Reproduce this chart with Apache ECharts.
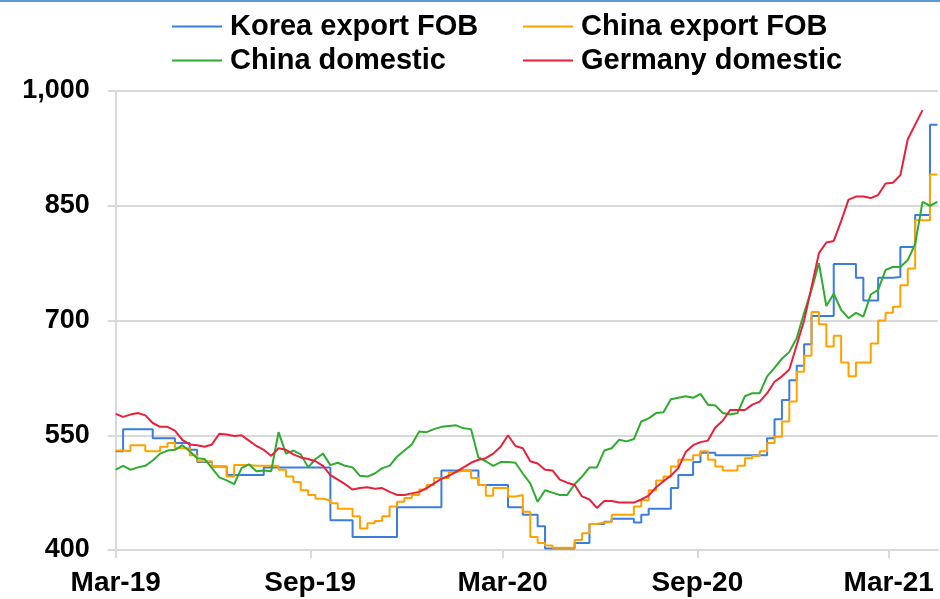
<!DOCTYPE html>
<html>
<head>
<meta charset="utf-8">
<script src="https://cdn.jsdelivr.net/npm/echarts@6/dist/echarts.min.js"></script>
<style>
html,body{margin:0;padding:0;background:#fff;}
#chart{width:940px;height:599px;}
</style>
</head>
<body>
<div id="chart"></div>
<script>
// Weekly observations starting 2019-03-01 (one value per week)
const startDate = '2019-03-01';
const weekCount = 112;

const seriesNames = ['Korea export FOB', 'China export FOB', 'China domestic', 'Germany domestic'];

const koreaExportFOB = [529,558,558,558,558,546,546,546,540,540,
  531,515,515,509,509,498,498,498,498,498,
  508,508,508,508,508,508,508,508,508,439,
  439,439,417,417,417,417,417,417,456,456,
  456,456,456,456,504,504,504,504,504,485,
  485,485,485,456,456,446,446,431,402,402,
  402,402,409,409,434,434,437,441,441,441,
  436,446,454,454,454,481,498,498,515,527,
  527,524,524,524,524,524,524,524,546,571,
  596,622,641,669,706,706,706,774,774,774,
  756,726,726,756,756,757,796,796,838,838,
  956,956];

const chinaExportFOB = [530,529,537,537,529,529,535,540,533,533,
  524,516,516,509,509,496,511,511,510,510,
  510,510,505,496,489,478,472,467,465,461,
  454,454,444,428,435,438,444,457,463,468,
  472,479,485,494,494,502,504,504,494,485,
  471,481,481,470,472,450,417,409,406,403,
  403,403,413,422,434,436,437,446,446,446,
  457,465,478,491,496,509,518,518,524,529,
  518,509,504,504,510,520,523,529,540,548,
  568,594,633,654,711,695,666,680,645,627,
  645,645,670,700,710,718,746,768,831,831,
  891,891];

const chinaDomestic = [505,510,505,508,510,517,526,530,531,537,
  529,520,519,507,495,491,486,507,512,503,
  504,503,554,526,530,525,508,519,526,511,
  514,510,508,497,496,500,507,510,522,530,
  538,555,554,558,561,562,563,559,558,521,
  516,510,515,515,514,500,487,463,478,475,
  472,472,486,496,508,508,530,533,544,542,
  545,568,572,579,580,597,599,601,599,604,
  590,589,579,577,579,601,605,605,627,638,
  650,659,677,710,740,775,719,735,714,703,
  710,705,734,740,766,770,770,779,800,855,
  850,855];

const germanyDomestic = [578,574,577,579,576,566,561,561,556,544,
  538,537,535,538,552,551,549,550,543,536,
  531,523,533,531,525,521,519,516,510,498,
  492,486,479,481,482,480,481,476,472,472,
  474,476,481,487,493,497,502,508,514,518,
  520,526,535,550,536,533,516,513,505,504,
  492,488,485,470,466,455,464,464,462,462,
  462,466,471,482,490,497,507,528,537,541,
  543,560,569,583,583,583,590,594,605,620,
  627,636,668,700,744,788,802,804,830,858,
  862,862,860,864,879,880,890,937,956,975,
  null,null];

const xTickDates = ['2019-03-01','2019-09-01','2020-03-01','2020-09-01','2021-03-01'];
const xTickLabels = ['Mar-19','Sep-19','Mar-20','Sep-20','Mar-21'];
const yTickValues = [400, 550, 700, 850, 1000];

const colors = ['#3b7ddd', '#ffa200', '#2fab2f', '#e8213a'];

// ---- build ----
const DAY = 86400000;
function ts(s){ const p = s.split('-').map(Number); return Date.UTC(p[0], p[1]-1, p[2]); }
const t0 = ts(startDate);
function dayOf(s){ return Math.round((ts(s) - t0) / DAY); }
const weekDays = [];
for (let i = 0; i < weekCount; i++) weekDays.push(i * 7);

const yBase = yTickValues[0];
const yStep = yTickValues[1] - yTickValues[0];
function pairs(vals){ return vals.map((v, i) => [weekDays[i], v == null ? null : v - yBase]); }

const tickDays = xTickDates.map(dayOf);
const font = '"Liberation Sans", Arial, sans-serif';

const chart = echarts.init(document.getElementById('chart'), null, {renderer: 'canvas'});
const legendCommon = {
  orient: 'vertical', top: 12, padding: 0, itemGap: 5, itemWidth: 50, itemHeight: 2,
  icon: 'rect',
  textStyle: {fontFamily: font, fontSize: 29, fontWeight: 'bold', color: '#000', padding: [0, 0, 0, 3]},
  selectedMode: false
};
const option = {
  animation: false,
  color: colors,
  graphic: [{type: 'rect', shape: {x: 0, y: 0, width: 940, height: 2}, style: {fill: '#5b9bd5'}}],
  legend: [
    Object.assign({}, legendCommon, {left: 172, data: [seriesNames[0], seriesNames[2]]}),
    Object.assign({}, legendCommon, {left: 523, data: [seriesNames[1], seriesNames[3]]})
  ],
  grid: {left: 115.7, right: 2, top: 91, bottom: 49},
  xAxis: {
    type: 'value',
    min: 0,
    max: 777.6,
    axisLine: {show: true, lineStyle: {color: '#d9d9d9', width: 2}},
    axisTick: {show: true, length: 8, customValues: tickDays, lineStyle: {color: '#d9d9d9', width: 2}},
    axisLabel: {
      customValues: tickDays, margin: 19, hideOverlap: false,
      fontFamily: font, fontSize: 28, fontWeight: 'bold', color: '#000',
      formatter: function (v) { const i = tickDays.indexOf(Math.round(v)); return i >= 0 ? xTickLabels[i] : ''; }
    },
    splitLine: {show: false}
  },
  yAxis: {
    type: 'value',
    min: 0, max: yTickValues[yTickValues.length-1] - yBase, interval: yStep,
    axisLine: {show: true, lineStyle: {color: '#d9d9d9', width: 2}},
    axisTick: {show: true, length: 8, lineStyle: {color: '#d9d9d9', width: 2}},
    axisLabel: {
      margin: 26, fontFamily: font, fontSize: 27, fontWeight: 'bold', color: '#000',
      formatter: function (v) { return (v + yBase).toLocaleString('en-US'); }
    },
    splitLine: {show: true, lineStyle: {color: '#d9d9d9', width: 2}}
  },
  series: [
    {name: seriesNames[0], type: 'line', step: 'end', showSymbol: false, symbol: 'none', data: pairs(koreaExportFOB), lineStyle: {width: 2}, z: 2},
    {name: seriesNames[1], type: 'line', step: 'end', showSymbol: false, symbol: 'none', data: pairs(chinaExportFOB), lineStyle: {width: 2}, z: 3},
    {name: seriesNames[2], type: 'line', showSymbol: false, symbol: 'none', data: pairs(chinaDomestic), lineStyle: {width: 2}, z: 4},
    {name: seriesNames[3], type: 'line', showSymbol: false, symbol: 'none', data: pairs(germanyDomestic), lineStyle: {width: 2}, z: 5}
  ]
};
chart.setOption(option);
</script>
</body>
</html>
